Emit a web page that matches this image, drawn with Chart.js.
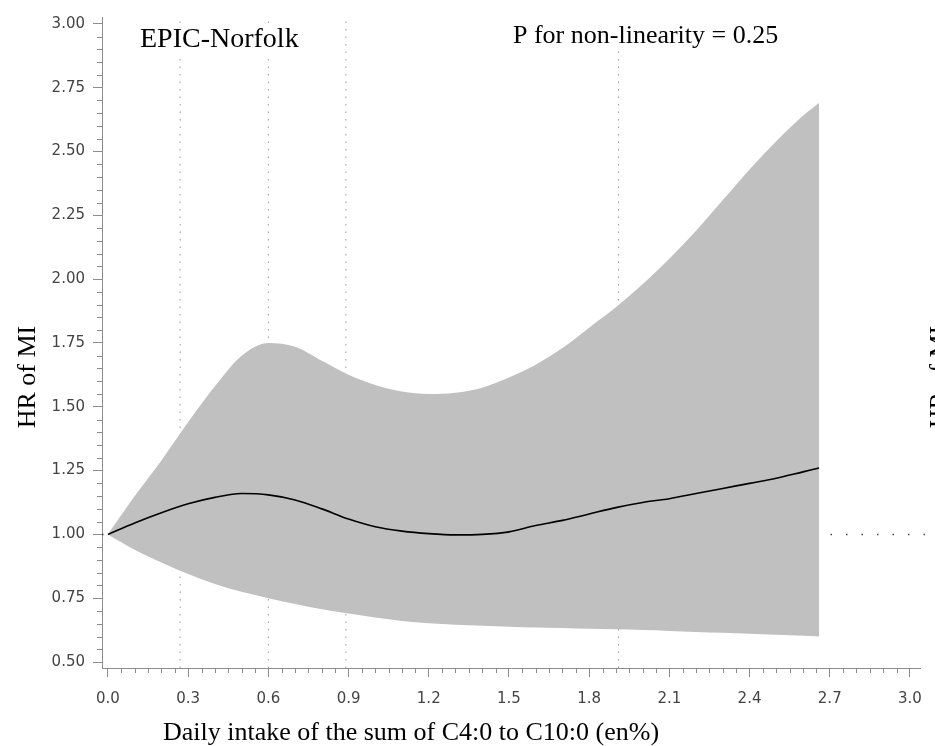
<!DOCTYPE html>
<html>
<head>
<meta charset="utf-8">
<script src="https://cdn.jsdelivr.net/npm/chart.js@4"></script>
<style>
  html, body { margin: 0; padding: 0; background: #fff; }
  #wrap { width: 935px; height: 746px; }
</style>
</head>
<body>
<div id="wrap"><canvas id="chart" width="935" height="746"></canvas></div>
<script>
// intake grid (en%) and spline estimates
const intake = [0, 0.1, 0.2, 0.3, 0.4, 0.5, 0.6, 0.7, 0.8, 0.9, 1.0, 1.1, 1.2, 1.3,
  1.4, 1.5, 1.6, 1.7, 1.8, 1.9, 2.0, 2.1, 2.2, 2.3, 2.4, 2.5, 2.6, 2.66];
const hr = [1.00, 1.045, 1.085, 1.12, 1.145, 1.16, 1.155, 1.135, 1.10, 1.06, 1.03, 1.013, 1.003, 0.998,
  1.00, 1.01, 1.035, 1.055, 1.08, 1.105, 1.125, 1.14, 1.16, 1.18, 1.20, 1.22, 1.245, 1.26];
const upperCI = [1.00, 1.15, 1.29, 1.44, 1.58, 1.70, 1.75, 1.735, 1.68, 1.625, 1.585, 1.56, 1.55, 1.555,
  1.575, 1.615, 1.665, 1.73, 1.81, 1.89, 1.98, 2.08, 2.19, 2.31, 2.43, 2.54, 2.64, 2.69];
const lowerCI = [1.00, 0.94, 0.89, 0.845, 0.806, 0.775, 0.75, 0.727, 0.707, 0.69, 0.674, 0.661, 0.652, 0.646,
  0.642, 0.638, 0.635, 0.633, 0.63, 0.628, 0.625, 0.622, 0.618, 0.615, 0.611, 0.607, 0.603, 0.60];

// dotted vertical reference lines (percentile knots) and the HR = 1 line
const knots = [0.27, 0.60, 0.89, 1.91];
const refHR = 1.0;
const refSpan = [-0.0223, 3.2];

const xMin = -0.0223, xMax = 3.041, xStep = 0.05, xMajor = 0.3;
const yMin = 0.4766, yMax = 3.027, yStep = 0.05, yMajor = 0.25;

const axisColor = '#8c8c8c';
const serif = '"Liberation Serif", "Times New Roman", serif';

const toPts = (ys) => intake.map((x, i) => ({ x, y: ys[i] }));
const isMajor = (v, step) => Math.abs(v / step - Math.round(v / step)) < 1e-6;

const knotSets = knots.map(k => ({
  data: [{ x: k, y: yMin }, { x: k, y: yMax }],
  borderColor: '#9a9a9a',
  borderWidth: 1,
  borderDash: [1.5, 6],
  pointRadius: 0,
  fill: false,
  order: 9,
}));

// minor tick marks are shorter than the major ones
const minorTicks = {
  id: 'minorTicks',
  afterDraw(chart) {
    const { ctx } = chart;
    const { x, y } = chart.scales;
    ctx.save();
    ctx.strokeStyle = axisColor;
    ctx.lineWidth = 1;
    ctx.beginPath();
    x.ticks.forEach(t => {
      if (isMajor(t.value, xMajor)) return;
      const px = Math.round(x.getPixelForValue(t.value)) + 0.5;
      ctx.moveTo(px, x.top);
      ctx.lineTo(px, x.top + 5);
    });
    y.ticks.forEach(t => {
      if (isMajor(t.value, yMajor)) return;
      const py = Math.round(y.getPixelForValue(t.value)) + 0.5;
      ctx.moveTo(y.right, py);
      ctx.lineTo(y.right - 5, py);
    });
    ctx.stroke();
    ctx.restore();
  }
};

// annotation text sits on a white box that hides the dotted lines
function boxedText(ctx, text, x, y, font) {
  ctx.font = font;
  const w = ctx.measureText(text).width;
  ctx.fillStyle = '#fff';
  ctx.fillRect(x - 4, y - 24, w + 8, 32);
  ctx.fillStyle = '#000';
  ctx.fillText(text, x, y);
}

const labels = {
  id: 'labels',
  afterDraw(chart) {
    const { ctx } = chart;
    ctx.save();
    ctx.textBaseline = 'alphabetic';
    ctx.textAlign = 'left';
    boxedText(ctx, 'EPIC-Norfolk', 140, 47, '28px ' + serif);
    boxedText(ctx, 'P for non-linearity = 0.25', 513, 43, '26px ' + serif);
    ctx.fillStyle = '#000';
    ctx.font = '26px ' + serif;
    ctx.fillText('Daily intake of the sum of C4:0 to C10:0 (en%)', 163, 740);
    ctx.textAlign = 'center';
    ctx.textBaseline = 'middle';
    [28, 940].forEach(cx => {
      ctx.save();
      ctx.translate(cx, 377);
      ctx.rotate(-Math.PI / 2);
      ctx.fillText('HR of MI', 0, 0);
      ctx.restore();
    });
    ctx.restore();
  }
};

new Chart(document.getElementById('chart'), {
  type: 'line',
  data: {
    datasets: [
      {
        data: refSpan.map(x => ({ x, y: refHR })),
        borderColor: '#444',
        borderWidth: 1.5,
        borderDash: [1.5, 14],
        pointRadius: 0,
        fill: false,
        clip: false,
        order: 10,
      },
      ...knotSets,
      {
        data: toPts(lowerCI),
        borderWidth: 0,
        pointRadius: 0,
        fill: false,
        cubicInterpolationMode: 'monotone',
        order: 3,
      },
      {
        data: toPts(upperCI),
        borderWidth: 0,
        pointRadius: 0,
        backgroundColor: '#c0c0c0',
        fill: '-1',
        cubicInterpolationMode: 'monotone',
        order: 2,
      },
      {
        data: toPts(hr),
        borderColor: '#000',
        borderWidth: 1.6,
        pointRadius: 0,
        fill: false,
        cubicInterpolationMode: 'monotone',
        order: 1,
      },
    ],
  },
  options: {
    responsive: false,
    animation: false,
    devicePixelRatio: 1,
    layout: { padding: { top: 13, right: 10, left: 0, bottom: 0 } },
    plugins: { legend: { display: false }, tooltip: { enabled: false } },
    scales: {
      x: {
        type: 'linear',
        min: xMin,
        max: xMax,
        afterFit: s => { s.height = 78; },
        border: { display: true, color: axisColor, width: 1 },
        grid: {
          drawOnChartArea: false,
          drawTicks: true,
          tickLength: 9,
          tickColor: c => isMajor(c.tick.value, xMajor) ? axisColor : 'rgba(0,0,0,0)',
        },
        ticks: {
          stepSize: xStep,
          includeBounds: false,
          autoSkip: false,
          maxRotation: 0,
          padding: 13,
          color: '#444',
          font: { family: '"DejaVu Sans", sans-serif', size: 15 },
          callback: v => isMajor(v, xMajor) ? v.toFixed(1) : '',
        },
      },
      y: {
        type: 'linear',
        min: yMin,
        max: yMax,
        afterFit: s => { s.width = 102; },
        border: { display: true, color: axisColor, width: 1 },
        grid: {
          drawOnChartArea: false,
          drawTicks: true,
          tickLength: 9,
          tickColor: c => isMajor(c.tick.value, yMajor) ? axisColor : 'rgba(0,0,0,0)',
        },
        ticks: {
          stepSize: yStep,
          includeBounds: false,
          autoSkip: false,
          padding: 8,
          color: '#444',
          font: { family: '"DejaVu Sans", sans-serif', size: 15 },
          callback: v => isMajor(v, yMajor) ? v.toFixed(2) : '',
        },
      },
    },
  },
  plugins: [minorTicks, labels],
});
</script>
</body>
</html>
